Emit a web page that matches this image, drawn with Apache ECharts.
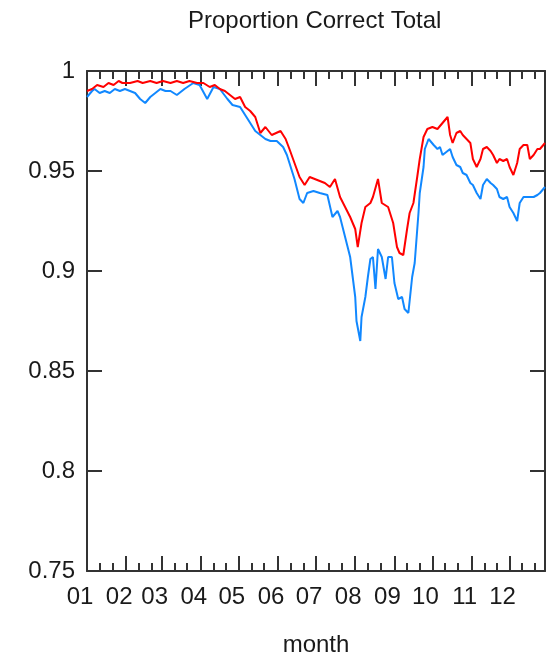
<!DOCTYPE html>
<html>
<head>
<meta charset="utf-8">
<script src="https://cdn.jsdelivr.net/npm/echarts@6/dist/echarts.min.js"></script>
<style>
html,body{margin:0;padding:0;background:#fff;}
#chart{width:547px;height:663px;}
</style>
</head>
<body>
<div id="chart"></div>
<script>
// ---- data (day-of-year index, value) ----
const YEAR = 2015;
const NDAYS = 363;
const monthLabels = ['01','02','03','04','05','06','07','08','09','10','11','12'];
const yTicks = { min: 0.75, max: 1, step: 0.05 };

const redSeries = [
 [0,0.990],[4,0.991],[8,0.993],[13,0.992],[17,0.994],[21,0.993],[25,0.995],[28,0.994],
 [34,0.994],[40,0.995],[44,0.994],[50,0.995],[55,0.994],[60,0.995],[66,0.994],[71,0.995],
 [76,0.994],[81,0.995],[87,0.994],[92,0.994],[97,0.992],[101,0.993],[105,0.991],[109,0.990],
 [113,0.988],[117,0.986],[121,0.987],[125,0.982],[129,0.980],[133,0.977],[137,0.969],[141,0.972],
 [146,0.968],[153,0.970],[157,0.966],[160,0.961],[164,0.954],[168,0.947],[172,0.943],[176,0.947],
 [180,0.946],[184,0.945],[188,0.944],[192,0.942],[196,0.946],[200,0.937],[204,0.932],[208,0.927],
 [212,0.921],[214,0.912],[217,0.924],[220,0.932],[224,0.934],[226,0.937],[230,0.946],[233,0.934],
 [238,0.932],[242,0.924],[245,0.912],[247,0.909],[250,0.908],[253,0.921],[255,0.929],[258,0.934],
 [261,0.947],[263,0.956],[266,0.967],[269,0.971],[273,0.972],[277,0.971],[281,0.974],[285,0.977],
 [287,0.968],[289,0.964],[292,0.969],[295,0.970],[297,0.968],[300,0.966],[303,0.964],[305,0.956],
 [308,0.952],[311,0.956],[313,0.961],[316,0.962],[319,0.960],[321,0.958],[324,0.954],[326,0.956],
 [329,0.955],[332,0.956],[334,0.952],[337,0.948],[340,0.954],[342,0.961],[345,0.963],[348,0.963],
 [350,0.956],[353,0.958],[356,0.961],[358,0.961],[362,0.964]
];

const blueSeries = [
 [0,0.987],[4,0.990],[6,0.991],[10,0.989],[14,0.990],[18,0.989],[22,0.991],[26,0.990],
 [30,0.991],[34,0.990],[38,0.989],[42,0.986],[46,0.984],[50,0.987],[54,0.989],[58,0.991],
 [62,0.990],[66,0.990],[71,0.988],[77,0.991],[84,0.994],[89,0.993],[95,0.986],[100,0.992],
 [105,0.991],[111,0.986],[115,0.983],[121,0.982],[125,0.978],[129,0.974],[133,0.970],[137,0.968],
 [141,0.966],[145,0.965],[150,0.965],[155,0.962],[158,0.958],[160,0.954],[164,0.946],[168,0.936],
 [171,0.934],[174,0.939],[179,0.940],[184,0.939],[190,0.938],[194,0.927],[198,0.930],[200,0.927],
 [202,0.922],[206,0.912],[208,0.907],[210,0.897],[212,0.887],[213,0.875],[216,0.865],[217,0.877],
 [220,0.887],[222,0.897],[224,0.906],[226,0.907],[228,0.891],[230,0.911],[233,0.907],[236,0.896],
 [238,0.907],[241,0.907],[243,0.894],[246,0.886],[249,0.887],[251,0.881],[254,0.879],[257,0.897],
 [259,0.904],[262,0.929],[263,0.939],[266,0.952],[267,0.961],[270,0.966],[274,0.963],[277,0.961],
 [279,0.962],[281,0.958],[285,0.960],[287,0.961],[289,0.957],[292,0.953],[295,0.952],[297,0.949],
 [300,0.948],[303,0.944],[305,0.943],[308,0.939],[311,0.936],[313,0.943],[316,0.946],[319,0.944],
 [321,0.943],[324,0.941],[326,0.937],[329,0.936],[332,0.937],[334,0.932],[337,0.929],[340,0.925],
 [342,0.934],[345,0.937],[348,0.937],[350,0.937],[353,0.937],[356,0.938],[358,0.939],[362,0.942]
];

// ---- axis categories: one per day ----
const days = [];
for (let i = 0; i < NDAYS; i++) {
  const d = new Date(Date.UTC(YEAR, 0, 1 + i));
  days.push({ m: d.getUTCMonth(), d: d.getUTCDate(),
              key: String(d.getUTCMonth()+1).padStart(2,'0') + '-' + String(d.getUTCDate()).padStart(2,'0') });
}
const cats = days.map(o => o.key);
const isMajor = (i) => days[i] && days[i].d === 1;
const isMinor = (i) => days[i] && (days[i].d === 11 || days[i].d === 21);

const FONT = 'Liberation Sans';
const TXT = '#1a1a1a';
const LINE = { show: true, lineStyle: { color: '#333', width: 2 } };

function xAx(pos, tickFn, len, lineShow, labels) {
  return {
    type: 'category', data: cats, boundaryGap: false, position: pos,
    axisLine: lineShow ? LINE : { show: false },
    axisTick: { show: true, inside: true, length: len, interval: (i) => tickFn(i),
                lineStyle: { color: '#333', width: 2 } },
    axisLabel: labels ? {
      show: true, interval: (i) => isMajor(i), fontSize: 24, fontFamily: FONT, color: TXT,
      margin: 14, padding: [0, 14, 0, 0], hideOverlap: false,
      formatter: (v) => monthLabels[parseInt(v.slice(0,2),10)-1]
    } : { show: false },
    splitLine: { show: false },
    name: labels ? 'month' : '', nameLocation: 'middle', nameGap: 62,
    nameTextStyle: { fontSize: 24, fontFamily: FONT, color: TXT }
  };
}

function yAx(pos, labels) {
  return {
    type: 'value', min: yTicks.min, max: yTicks.max, interval: yTicks.step, position: pos,
    axisLine: LINE,
    axisTick: { show: true, inside: true, length: 15, lineStyle: { color: '#333', width: 2 } },
    axisLabel: labels ? { show: true, fontSize: 24, fontFamily: FONT, color: TXT, margin: 12 } : { show: false },
    splitLine: { show: false }
  };
}

const chart = echarts.init(document.getElementById('chart'), null, { renderer: 'canvas' });
chart.setOption({
  animation: false,
  backgroundColor: '#fff',
  title: {
    text: 'Proportion Correct Total', left: 183, top: 4,
    textStyle: { fontSize: 24, fontWeight: 'normal', fontFamily: FONT, color: TXT }
  },
  grid: { left: 87, right: 2, top: 71, bottom: 92, containLabel: false },
  xAxis: [
    xAx('bottom', isMajor, 15, true, true),
    xAx('bottom', isMinor, 8, false, false),
    xAx('top', isMajor, 15, true, false),
    xAx('top', isMinor, 8, false, false)
  ],
  yAxis: [ yAx('left', true), yAx('right', false) ],
  series: [
    { name: 'red', type: 'line', xAxisIndex: 0, yAxisIndex: 0, data: redSeries,
      showSymbol: false, symbol: 'none', lineStyle: { color: '#ff0000', width: 2 }, z: 3 },
    { name: 'blue', type: 'line', xAxisIndex: 0, yAxisIndex: 0, data: blueSeries,
      showSymbol: false, symbol: 'none', lineStyle: { color: '#1188ff', width: 2 }, z: 2 }
  ]
});
</script>
</body>
</html>
